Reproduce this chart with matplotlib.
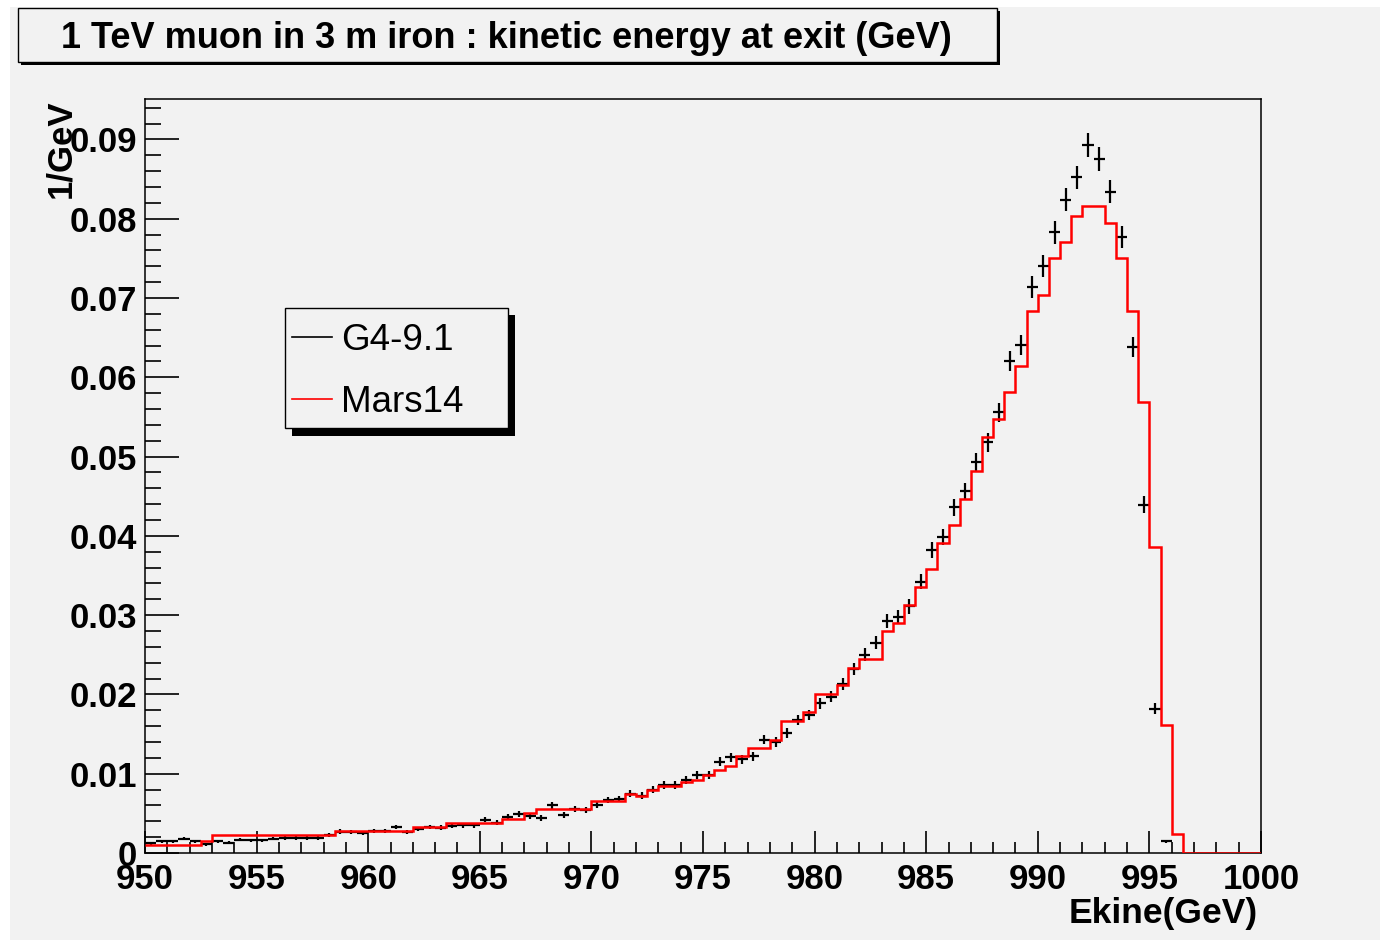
import numpy as np
import matplotlib
matplotlib.use("Agg")
import matplotlib.pyplot as plt
from matplotlib.patches import Rectangle
from matplotlib.lines import Line2D

W, H = 1380, 943
BG = "#f2f2f2"

title = "1 TeV muon in 3 m iron : kinetic energy at exit (GeV)"
x_label = "Ekine(GeV)"
y_label = "1/GeV"
series_names = ["G4-9.1", "Mars14"]

# 0.5 GeV bins from 950 to 1000
bin_edges = np.linspace(950, 1000, 101)

g4_values = [
    0.0012, 0.0015, 0.0015, 0.0018, 0.0015, 0.0011, 0.0015, 0.0013, 0.0017, 0.0016,
    0.0016, 0.0018, 0.0019, 0.0019, 0.0019, 0.0019, 0.0023, 0.0027, 0.0026, 0.0025,
    0.0028, 0.0028, 0.0033, 0.0026, 0.0030, 0.0033, 0.0032, 0.0034, 0.0035, 0.0035,
    0.0042, 0.0038, 0.0046, 0.0049, 0.0047, 0.0044, 0.0060, 0.0048, 0.0056, 0.0054,
    0.0061, 0.0067, 0.0068, 0.0075, 0.0072, 0.0080, 0.0086, 0.0086, 0.0092, 0.0098,
    0.0098, 0.0115, 0.0121, 0.0118, 0.0122, 0.0143, 0.0140, 0.0151, 0.0168, 0.0174,
    0.0189, 0.0197, 0.0213, 0.0232, 0.0250, 0.0265, 0.0293, 0.0298, 0.0311, 0.0342,
    0.0382, 0.0399, 0.0436, 0.0456, 0.0493, 0.0518, 0.0556, 0.0620, 0.0641, 0.0714,
    0.0740, 0.0783, 0.0824, 0.0852, 0.0893, 0.0875, 0.0834, 0.0777, 0.0638, 0.0439,
    0.0182, 0.0015, 0.0, 0.0, 0.0, 0.0, 0.0, 0.0, 0.0, 0.0,
]

mars_values = [
    0.0010, 0.0010, 0.0010, 0.0010, 0.0010, 0.0015, 0.0023, 0.0023, 0.0023, 0.0023,
    0.0023, 0.0023, 0.0023, 0.0023, 0.0023, 0.0023, 0.0023, 0.0028, 0.0028, 0.0028,
    0.0028, 0.0028, 0.0028, 0.0028, 0.0033, 0.0033, 0.0033, 0.0038, 0.0038, 0.0038,
    0.0038, 0.0038, 0.0043, 0.0043, 0.0050, 0.0055, 0.0055, 0.0055, 0.0055, 0.0055,
    0.0066, 0.0066, 0.0066, 0.0075, 0.0072, 0.0079, 0.0085, 0.0085, 0.0089, 0.0092,
    0.0098, 0.0105, 0.0110, 0.0122, 0.0133, 0.0133, 0.0143, 0.0166, 0.0166, 0.0178,
    0.0201, 0.0201, 0.0212, 0.0233, 0.0245, 0.0245, 0.0280, 0.0290, 0.0313, 0.0335,
    0.0358, 0.0391, 0.0414, 0.0446, 0.0482, 0.0525, 0.0547, 0.0582, 0.0614, 0.0683,
    0.0704, 0.0750, 0.0771, 0.0804, 0.0816, 0.0816, 0.0794, 0.0750, 0.0683, 0.0569,
    0.0386, 0.0161, 0.0024, 0.0, 0.0, 0.0, 0.0, 0.0, 0.0, 0.0,
]

x_ticks = [950, 955, 960, 965, 970, 975, 980, 985, 990, 995, 1000]
y_ticks = [0, 0.01, 0.02, 0.03, 0.04, 0.05, 0.06, 0.07, 0.08, 0.09]
y_tick_labels = ["0", "0.01", "0.02", "0.03", "0.04", "0.05", "0.06", "0.07", "0.08", "0.09"]

plt.rcParams["font.family"] = ["Liberation Sans", "DejaVu Sans"]


def fig_box(x0, y0, x1, y1):
    """pixel box (top-left origin) -> figure fraction rect"""
    return (x0 / W, 1 - y1 / H), (x1 - x0) / W, (y1 - y0) / H


fig = plt.figure(figsize=(W / 100, H / 100), dpi=100, facecolor="white")

# gray canvas, kept behind the axes
xy, w, h = fig_box(10, 7, 1380, 940)
fig.patches.append(Rectangle(xy, w, h, transform=fig.transFigure, facecolor=BG,
                             edgecolor="none", zorder=-10))

ax = fig.add_axes([145 / W, 1 - 853 / H, (1261 - 145) / W, (853 - 99) / H])
ax.set_facecolor(BG)

centers = 0.5 * (bin_edges[:-1] + bin_edges[1:])
g4 = np.array(g4_values)
# poisson-like stat errors as drawn by ROOT
g4_err = np.sqrt(g4 * 2.6e-5)
keep = g4 > 0
ax.errorbar(centers[keep], g4[keep], xerr=0.25, yerr=g4_err[keep], fmt="none",
            ecolor="black", elinewidth=1.6, capsize=0, zorder=3)

ax.stairs(mars_values, bin_edges, color="red", linewidth=1.8, baseline=None, zorder=4)

ax.set_xlim(950, 1000)
ax.set_ylim(0, 0.0951)
ax.set_xticks(x_ticks)
ax.set_xticks(np.arange(950, 1001, 1), minor=True)
ax.set_yticks(y_ticks)
ax.set_yticklabels(y_tick_labels)
ax.set_yticks(np.arange(0, 0.0951, 0.002), minor=True)

ax.tick_params(axis="both", which="both", direction="in", colors="black",
               labelsize=25, width=1.2)
ax.tick_params(axis="x", which="major", length=16, pad=7)
ax.tick_params(axis="x", which="minor", length=8)
ax.tick_params(axis="y", which="major", length=24.5, pad=6)
ax.tick_params(axis="y", which="minor", length=11.5)
for lab in ax.get_xticklabels() + ax.get_yticklabels():
    lab.set_fontweight("bold")
for sp in ax.spines.values():
    sp.set_linewidth(1.1)
    sp.set_color("black")

fig.text(1258 / W, 1 - 914 / H, x_label, ha="right", va="center",
         fontsize=25.5, fontweight="bold")
fig.text(61 / W, 1 - 100 / H, y_label, ha="center", va="top", rotation=90,
         fontsize=25, fontweight="bold")

# title box with shadow
xy, w, h = fig_box(21, 11, 1000, 65)
fig.patches.append(Rectangle(xy, w, h, transform=fig.transFigure, facecolor="black",
                             edgecolor="none", zorder=5))
xy, w, h = fig_box(18, 8, 997, 62)
fig.patches.append(Rectangle(xy, w, h, transform=fig.transFigure, facecolor=BG,
                             edgecolor="black", linewidth=1.0, zorder=6))
fig.text(506 / W, 1 - 39 / H, title, ha="center", va="center", fontsize=26,
         fontweight="bold", zorder=7)

# legend box with shadow
xy, w, h = fig_box(292, 315, 515, 436)
leg_shadow = Rectangle(xy, w, h, transform=fig.transFigure, facecolor="black",
                       edgecolor="none", zorder=8)
xy, w, h = fig_box(285, 308, 508, 428)
leg_box = Rectangle(xy, w, h, transform=fig.transFigure, facecolor=BG,
                    edgecolor="black", linewidth=1.0, zorder=9)
fig.patches.extend([leg_shadow, leg_box])
for name, color, ypix in zip(series_names, ["black", "red"], [337, 399]):
    fig.lines.append(Line2D([292 / W, 332 / W], [1 - ypix / H, 1 - ypix / H],
                            transform=fig.transFigure, color=color, linewidth=1.2,
                            zorder=10))
    fig.text(341 / W, 1 - (ypix + 3) / H, name, ha="left", va="center",
             fontsize=26.5, zorder=10)

fig.savefig("out.png", dpi=100, facecolor="white")
